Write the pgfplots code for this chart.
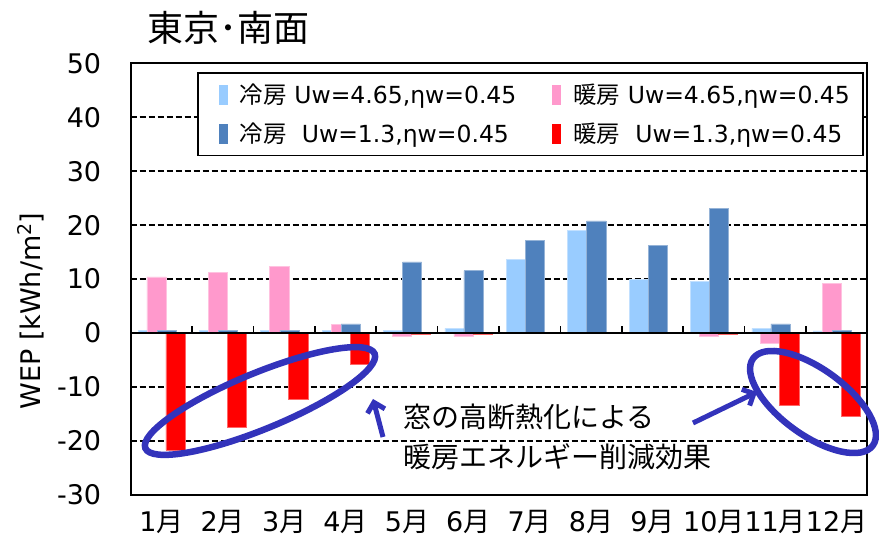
\documentclass[border=0pt]{standalone}
\usepackage{pgfplots}
\pgfplotsset{compat=1.18}
\usetikzlibrary{arrows.meta}
\usepackage{fontspec}
\setmainfont{DejaVu Sans}
\newfontfamily\cjk{Noto Sans CJK JP}
\definecolor{lblue}{RGB}{153,204,255}
\definecolor{lpink}{RGB}{255,153,204}
\definecolor{dblue}{RGB}{79,129,189}
\definecolor{ared}{RGB}{255,0,0}
\definecolor{annot}{RGB}{51,51,187}

\pgfplotstableread{
x y
0 0.45
1 0.45
2 0.45
3 0.45
4 0.45
5 0.9
6 13.6
7 19.1
8 10.0
9 9.6
10 0.9
11 0.4
}\coolA
\pgfplotstableread{
x y
0 10.4
1 11.2
2 12.4
3 1.6
4 -0.6
5 -0.6
6 0
7 0
8 0
9 -0.6
10 -1.8
11 9.2
}\heatA
\pgfplotstableread{
x y
0 0.5
1 0.5
2 0.5
3 1.7
4 13.2
5 11.6
6 17.2
7 20.8
8 16.3
9 23.1
10 1.7
11 0.45
}\coolB
\pgfplotstableread{
x y
0 -21.7
1 -17.4
2 -12.2
3 -5.8
4 -0.2
5 -0.2
6 0
7 0
8 0
9 -0.2
10 -13.3
11 -15.4
}\heatB

\begin{document}
\begin{tikzpicture}
\path[use as bounding box] (0,0) rectangle (879bp,542bp);
\begin{axis}[
  at={(130.7bp,47bp)}, anchor=south west,
  scale only axis, width=736.6bp, height=431.7bp,
  xmin=-0.5, xmax=11.5, ymin=-30, ymax=50,
  ytick={-30,-20,...,50},
  xtick={0,...,11},
  xticklabels={1{\cjk 月},2{\cjk 月},3{\cjk 月},4{\cjk 月},5{\cjk 月},6{\cjk 月},7{\cjk 月},8{\cjk 月},9{\cjk 月},10{\cjk 月},11{\cjk 月},12{\cjk 月}},
  x tick style={draw=none},
  ytick pos=left, tick align=inside, major tick length=6bp,
  y tick style={black, line width=1.6bp},
  ymajorgrids, grid style={black, dash pattern=on 6bp off 3bp, line width=2bp},
  axis line style={black, line width=2.2bp},
  tick label style={font=\fontsize{27bp}{30bp}\selectfont},
  /pgf/number format/assume math mode=true,
  xticklabel style={yshift=-6bp, inner xsep=0pt},
  yticklabel style={xshift=-26bp},
  ybar, bar width=0.312,
  legend columns=2,
  legend style={at={(0.09,0.979)}, anchor=north west, draw=black, line width=1.8bp,
    font=\fontsize{23.5bp}{27bp}\selectfont, inner xsep=11bp, inner ysep=9bp,
    /tikz/every even column/.append style={column sep=24bp},
    row sep=14bp},
  legend cell align=left,
  legend image code/.code={\path[draw=none,fill=none] (0bp,0bp) rectangle (29bp,0bp);\fill[#1,draw=none] (10bp,-10bp) rectangle (19bp,10bp);},
]
\addplot[fill=lblue, draw=lblue!60!white, line width=0.6bp, bar shift=-0.225] table {\coolA};
\addlegendentry{{\cjk 冷房} Uw=4.65,ηw=0.45}
\addplot[fill=lpink, draw=lpink!60!white, line width=0.6bp, bar shift=-0.08] table {\heatA};
\addlegendentry{{\cjk 暖房} Uw=4.65,ηw=0.45}
\addplot[fill=dblue, draw=dblue!60!white, line width=0.6bp, bar shift=0.085] table {\coolB};
\addlegendentry{{\cjk 冷房}\ \ Uw=1.3,ηw=0.45}
\addplot[fill=ared, draw=ared!60!white, line width=0.6bp, bar shift=0.23] table {\heatB};
\addlegendentry{{\cjk 暖房}\ \ Uw=1.3,ηw=0.45}
\draw[black, line width=2.2bp] (axis cs:-0.5,0) -- (axis cs:11.5,0);
\pgfplotsinvokeforeach{0.5,1.5,2.5,3.5,4.5,5.5,6.5,7.5,8.5,9.5,10.5}{
  \draw[black, line width=1.6bp] (axis cs:#1,0) -- (axis cs:#1,1.35);
}
\end{axis}
\begin{scope}[x=1bp,y=-1bp,yshift=542bp]
\node[anchor=west, font=\cjk\fontsize{36bp}{40bp}\selectfont] at (144,28) {東京･南面};
\node[rotate=90, font=\fontsize{27bp}{30bp}\selectfont] at (31,311) {WEP [kWh/m\textsuperscript{2}]};
\draw[annot, line width=6.5bp, rotate around={22.4:(260,401)}] (260,401) ellipse [x radius=124, y radius=28];
\draw[annot, line width=6.5bp, rotate around={-36:(813,402)}] (813,402) ellipse [x radius=74, y radius=33];
\draw[annot, line width=5bp, -{Straight Barb[length=9bp,width=18bp]}] (383,437) -- (373,399);
\draw[annot, line width=5bp, -{Straight Barb[length=9bp,width=18bp]}] (693,423) -- (757,392);
\node[anchor=west, font=\cjk\fontsize{28bp}{32bp}\selectfont, inner sep=0pt] at (403,417) {窓の高断熱化による};
\node[anchor=west, font=\cjk\fontsize{28bp}{32bp}\selectfont, inner sep=0pt] at (403,457) {暖房エネルギー削減効果};
\end{scope}
\end{tikzpicture}
\end{document}
